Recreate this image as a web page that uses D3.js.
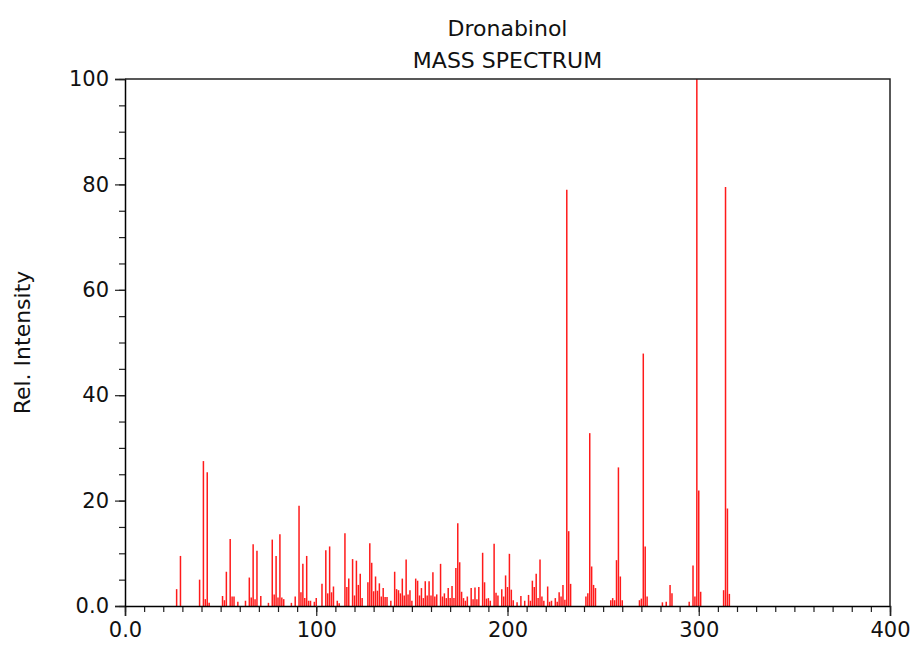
<!DOCTYPE html>
<html>
<head>
<meta charset="utf-8">
<script src="https://cdn.jsdelivr.net/npm/d3@7/dist/d3.min.js"></script>
<style>
	body { margin: 0; background: #fff; }
	svg text { font-family: "DejaVu Sans", sans-serif; fill: #111; }
</style>
</head>
<body>
<div id="chart"></div>
<script>
// peaks: m/z and relative intensity
const mz = [27, 29, 39, 41, 42, 43, 44,
	51, 52, 53, 55, 56, 57, 59,
	63, 65, 66, 67, 68, 69, 71,
	75, 77, 78, 79, 80, 81, 82, 83,
	87, 89, 91, 92, 93, 94, 95, 96, 97,
	99, 100, 103, 105, 106, 107, 108, 109, 111, 112,
	115, 116, 117, 119, 120, 121, 122, 123, 124,
	127, 128, 129, 130, 131, 132, 133, 134, 135, 136, 137, 139,
	141, 142, 143, 144, 145, 146, 147, 148, 149, 150,
	152, 153, 154, 155, 156, 157, 158, 159, 160, 161, 162, 163,
	165, 166, 167, 168, 169, 170, 171, 172, 173, 174, 175, 176, 177, 178, 179,
	181, 182, 183, 184, 185, 187, 188, 189, 190, 191,
	193, 194, 195, 197, 198, 199, 200, 201, 202, 203, 205,
	207, 209, 211, 212, 213, 214, 215, 216, 217, 218, 219,
	221, 222, 223, 225, 226, 227, 228, 229, 230, 231, 232, 233,
	241, 242, 243, 244, 245, 246,
	254, 255, 256, 257, 258, 259, 260,
	269, 270, 271, 272, 273,
	281, 283, 285, 286,
	295, 297, 298, 299, 300, 301,
	313, 314, 315, 316];
const intensity = [3.2, 9.5, 5.0, 27.5, 1.3, 25.4, 0.6,
	1.9, 1.1, 6.5, 12.7, 1.8, 1.8, 0.8,
	1.0, 5.4, 1.6, 11.7, 1.3, 10.5, 1.9,
	0.6, 12.6, 2.2, 9.5, 1.6, 13.6, 1.6, 1.3,
	0.6, 1.8, 19.0, 2.6, 8.0, 1.5, 9.5, 1.0, 1.0,
	0.8, 1.5, 4.2, 10.6, 2.4, 11.3, 2.6, 3.7, 1.0, 0.5,
	13.8, 3.6, 5.2, 8.9, 2.0, 8.6, 4.0, 6.1, 1.5,
	4.5, 11.9, 8.2, 2.8, 5.6, 2.9, 4.3, 1.8, 3.4, 1.7, 1.7, 1.0,
	6.5, 3.2, 3.0, 2.4, 5.2, 2.0, 8.8, 2.2, 3.0, 1.0,
	5.2, 4.8, 2.0, 3.4, 1.5, 4.7, 2.0, 4.7, 2.0, 6.4, 1.8, 2.2,
	8.0, 1.8, 2.4, 1.5, 3.4, 1.5, 3.8, 1.5, 7.2, 15.7, 8.3, 2.7, 1.5, 1.0, 1.8,
	3.4, 1.3, 3.5, 1.3, 3.6, 10.1, 4.5, 1.4, 1.5, 1.0,
	11.8, 2.5, 2.0, 3.2, 1.8, 5.8, 3.6, 9.9, 3.1, 1.1, 0.7,
	1.9, 1.0, 2.1, 1.0, 4.8, 3.6, 6.1, 1.5, 8.8, 1.8, 1.0,
	3.7, 0.8, 1.0, 1.5, 0.8, 2.6, 1.8, 4.0, 1.2, 79.0, 14.2, 4.2,
	1.8, 2.4, 32.8, 7.5, 4.0, 3.4,
	1.1, 1.5, 1.1, 8.7, 26.3, 5.6, 1.1,
	1.1, 1.4, 47.9, 11.3, 1.8,
	0.7, 0.8, 4.0, 2.4,
	0.8, 7.7, 1.8, 100, 21.9, 2.7,
	3.0, 79.5, 18.5, 2.3];

const xMajor = [0, 100, 200, 300, 400];
const yMajor = [0, 20, 40, 60, 80, 100];
const titleLines = ["Dronabinol", "MASS SPECTRUM"];
const yLabel = "Rel. Intensity";

const width = 912, height = 647;
const margin = {left: 125, right: 22, top: 79, bottom: 41};

const svg = d3.select("#chart").append("svg")
	.attr("width", width)
	.attr("height", height);

const x = d3.scaleLinear()
	.domain([0, 400])
	.range([margin.left, width - margin.right]);

const y = d3.scaleLinear()
	.domain([0, 100])
	.range([height - margin.bottom, margin.top]);

const fmt = d => d === 0 ? "0.0" : String(d);

// peaks
svg.append("g")
	.attr("stroke", "#ff1a1a")
	.attr("stroke-width", 1.5)
	.selectAll("line")
	.data(mz).enter()
	.append("line")
	.attr("x1", d => x(d))
	.attr("x2", d => x(d))
	.attr("y1", y(0))
	.attr("y2", (d, i) => y(intensity[i]));

// minor ticks
svg.append("g")
	.attr("transform", `translate(0,${y(0)})`)
	.call(d3.axisBottom(x).tickValues(d3.range(0, 401, 10)).tickSize(6).tickFormat(""))
	.call(g => g.select(".domain").remove());

svg.append("g")
	.attr("transform", `translate(${x(0)},0)`)
	.call(d3.axisLeft(y).tickValues(d3.range(0, 101, 5)).tickSize(6).tickFormat(""))
	.call(g => g.select(".domain").remove());

// major axes
const xAxis = svg.append("g")
	.attr("transform", `translate(0,${y(0)})`)
	.call(d3.axisBottom(x).tickValues(xMajor).tickSize(10).tickPadding(6).tickFormat(fmt));

const yAxis = svg.append("g")
	.attr("transform", `translate(${x(0)},0)`)
	.call(d3.axisLeft(y).tickValues(yMajor).tickSize(10).tickPadding(6).tickFormat(fmt));

[xAxis, yAxis].forEach(g => {
	g.selectAll("text").style("font-size", "21px").attr("fill", "#111");
	g.selectAll(".domain").attr("stroke-width", 1.5);
});
svg.selectAll(".tick line").attr("stroke", "#222").attr("stroke-width", 1.2);

// top and right frame
svg.append("path")
	.attr("fill", "none")
	.attr("stroke", "#222")
	.attr("stroke-width", 1.5)
	.attr("d", `M${x(0)},${y(100)}H${x(400)}V${y(0)}`);

// titles
svg.append("g")
	.selectAll("text")
	.data(titleLines).enter()
	.append("text")
	.attr("x", (x(0) + x(400)) / 2)
	.attr("y", (d, i) => 36 + i * 32)
	.attr("text-anchor", "middle")
	.style("font-size", "22px")
	.text(d => d);

svg.append("text")
	.attr("transform", `translate(30,${(y(0) + y(100)) / 2}) rotate(-90)`)
	.attr("text-anchor", "middle")
	.style("font-size", "22px")
	.text(yLabel);
</script>
</body>
</html>
